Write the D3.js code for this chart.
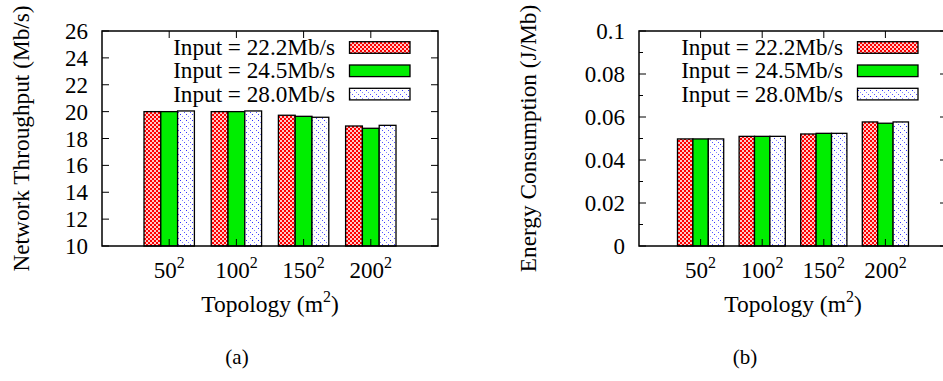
<!DOCTYPE html>
<html>
<head>
<meta charset="utf-8">
<title>Throughput / Energy</title>
<script src="https://cdn.jsdelivr.net/npm/d3@7"></script>
<style>
  body { margin: 0; background: #fff; }
</style>
</head>
<body>
<svg id="chart" width="943" height="381"></svg>
<script>
// data
var topologies = ["50", "100", "150", "200"];
var inputs = ["Input = 22.2Mb/s", "Input = 24.5Mb/s", "Input = 28.0Mb/s"];
var throughput = [
  [20.0, 20.0, 19.73, 18.93],   // 22.2
  [20.0, 20.0, 19.65, 18.76],   // 24.5
  [20.05, 20.05, 19.58, 18.98]  // 28.0
];
var energy = [
  [0.0498, 0.0510, 0.0521, 0.0577],
  [0.0498, 0.0510, 0.0524, 0.0571],
  [0.0498, 0.0510, 0.0524, 0.0577]
];
var throughputTicks = [10, 12, 14, 16, 18, 20, 22, 24, 26];
var energyTicks = [0, 0.02, 0.04, 0.06, 0.08, 0.1];
var energyMinor = [0.01, 0.03, 0.05, 0.07, 0.09];

var svg = d3.select("#chart");
var FONT = "Liberation Serif, Times New Roman, serif";

// patterns (gnuplot-like fills)
var defs = svg.append("defs");
var pr = defs.append("pattern").attr("id", "pRed").attr("patternUnits", "userSpaceOnUse")
  .attr("width", 4).attr("height", 4);
pr.append("rect").attr("width", 4).attr("height", 4).attr("fill", "#ff0000");
pr.append("rect").attr("x", 0).attr("y", 0).attr("width", 2).attr("height", 2).attr("fill", "#ffc8c8");
pr.append("rect").attr("x", 2).attr("y", 2).attr("width", 2).attr("height", 2).attr("fill", "#ffc8c8");

var pb = defs.append("pattern").attr("id", "pBlue").attr("patternUnits", "userSpaceOnUse")
  .attr("width", 6).attr("height", 6);
pb.append("rect").attr("width", 6).attr("height", 6).attr("fill", "#fff");
pb.append("rect").attr("x", 0).attr("y", 0).attr("width", 1).attr("height", 1).attr("fill", "#3030ff");
pb.append("rect").attr("x", 2).attr("y", 2).attr("width", 1).attr("height", 1).attr("fill", "#8888ff");
pb.append("rect").attr("x", 4).attr("y", 4).attr("width", 1).attr("height", 1).attr("fill", "#5555ff");

var fills = ["url(#pRed)", "#00ee00", "url(#pBlue)"];

function drawPanel(opt) {
  var g = svg.append("g").attr("font-family", FONT);
  var x = d3.scaleLinear().domain([-1, 4]).range([opt.left, opt.right]);
  var y = d3.scaleLinear().domain(opt.domain).range([opt.bottom, opt.top]);
  var bw = 0.25;

  // bars
  opt.data.forEach(function(series, s) {
    g.selectAll(null).data(series).enter().append("rect")
      .attr("x", function(d, i) { return x(i - 1.5 * bw + s * bw); })
      .attr("y", function(d) { return y(d); })
      .attr("width", x(bw) - x(0))
      .attr("height", function(d) { return y(opt.domain[0]) - y(d); })
      .attr("fill", fills[s])
      .attr("stroke", "#000").attr("stroke-width", 1.3);
  });

  // frame
  g.append("rect").attr("x", opt.left).attr("y", opt.top)
    .attr("width", opt.right - opt.left).attr("height", opt.bottom - opt.top)
    .attr("fill", "none").attr("stroke", "#000").attr("stroke-width", 1.5);

  var tl = 7;
  // y ticks both sides
  g.selectAll(null).data(opt.ticks).enter().append("path")
    .attr("d", function(d) {
      return "M" + opt.left + "," + y(d) + "h" + tl + "M" + opt.right + "," + y(d) + "h" + (-tl);
    }).attr("stroke", "#000").attr("stroke-width", 1);
  if (opt.minor) {
    g.selectAll(null).data(opt.minor).enter().append("path")
      .attr("d", function(d) {
        return "M" + opt.left + "," + y(d) + "h" + 4 + "M" + opt.right + "," + y(d) + "h" + (-4);
      }).attr("stroke", "#000").attr("stroke-width", 1);
  }
  g.selectAll(null).data(opt.ticks).enter().append("text")
    .attr("x", opt.left - 14).attr("y", function(d) { return y(d) + 8; })
    .attr("text-anchor", "end").attr("font-size", 23)
    .text(opt.fmt);

  // x ticks top/bottom
  g.selectAll(null).data(topologies).enter().append("path")
    .attr("d", function(d, i) {
      return "M" + x(i) + "," + opt.top + "v" + tl + "M" + x(i) + "," + opt.bottom + "v" + (-tl);
    }).attr("stroke", "#000").attr("stroke-width", 1);
  var xt = g.selectAll(null).data(topologies).enter().append("text")
    .attr("x", function(d, i) { return x(i); }).attr("y", 278)
    .attr("text-anchor", "middle").attr("font-size", 23);
  xt.append("tspan").text(function(d) { return d; });
  xt.append("tspan").attr("dy", -10).attr("font-size", 16).text("2");

  // axis titles
  var xl = g.append("text").attr("x", (opt.left + opt.right) / 2).attr("y", 312)
    .attr("text-anchor", "middle").attr("font-size", 23.5);
  xl.append("tspan").text("Topology (m");
  xl.append("tspan").attr("dy", -10).attr("font-size", 16).text("2");
  xl.append("tspan").attr("dy", 10).text(")");

  g.append("text")
    .attr("transform", "translate(" + opt.ylabX + "," + ((opt.top + opt.bottom) / 2) + ") rotate(-90)")
    .attr("text-anchor", "middle").attr("font-size", 23.3)
    .text(opt.ylabel);

  // legend
  inputs.forEach(function(name, s) {
    var cy = 47.5 + s * 23.3;
    g.append("text").attr("x", opt.legText).attr("y", cy + 7.5)
      .attr("text-anchor", "end").attr("font-size", 23.2).text(name);
    g.append("rect").attr("x", opt.legText + 14.5).attr("y", cy - 5.8)
      .attr("width", 60.5).attr("height", 11.6)
      .attr("fill", fills[s]).attr("stroke", "#000").attr("stroke-width", 1.3);
  });

  g.append("text").attr("x", opt.cap).attr("y", 364)
    .attr("text-anchor", "middle").attr("font-size", 21).text(opt.capText);
}

drawPanel({
  left: 102, right: 438, top: 31, bottom: 246,
  domain: [10, 26], ticks: throughputTicks,
  fmt: function(d) { return d; },
  data: throughput, ylabel: "Network Throughput (Mb/s)", ylabX: 29,
  legText: 335, cap: 237, capText: "(a)"
});

drawPanel({
  left: 639, right: 947, top: 31, bottom: 246,
  domain: [0, 0.1], ticks: energyTicks, minor: energyMinor,
  fmt: function(d) { return d === 0 ? "0" : String(+d.toFixed(2)); },
  data: energy, ylabel: "Energy Consumption (J/Mb)", ylabX: 536,
  legText: 843, cap: 745, capText: "(b)"
});
</script>
</body>
</html>
